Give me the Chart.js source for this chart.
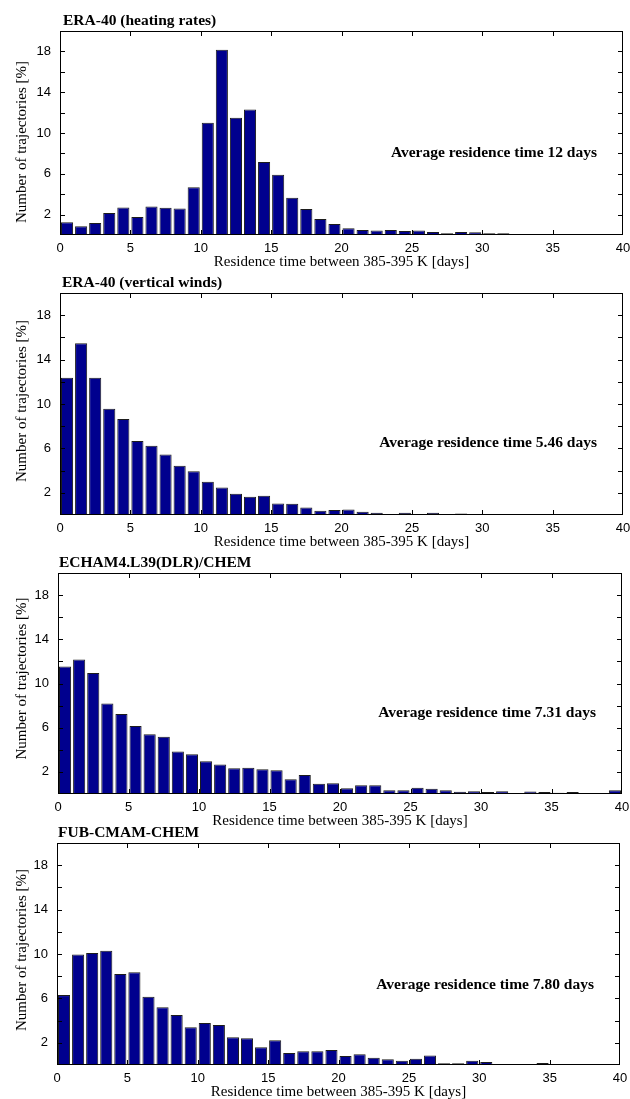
<!DOCTYPE html>
<html>
<head>
<meta charset="utf-8">
<script src="https://cdn.jsdelivr.net/npm/chart.js@4.4.0/dist/chart.umd.min.js"></script>
<style>
  html, body { margin: 0; padding: 0; background: #fff; overflow: hidden; }
  #wrap { position: relative; width: 630px; height: 1099px; }
  canvas { position: absolute; left: 0; }
</style>
</head>
<body>
<div id="wrap">
  <canvas id="c1" width="630" height="274" style="top:1px"></canvas>
  <canvas id="c2" width="630" height="292" style="top:263px"></canvas>
  <canvas id="c3" width="630" height="291" style="top:543px"></canvas>
  <canvas id="c4" width="630" height="292" style="top:813px"></canvas>
</div>
<script>
// bin centres (days), one bar per 1-day bin
var binCenters = [0.5,1.5,2.5,3.5,4.5,5.5,6.5,7.5,8.5,9.5,10.5,11.5,12.5,13.5,14.5,15.5,16.5,17.5,18.5,19.5,
                  20.5,21.5,22.5,23.5,24.5,25.5,26.5,27.5,28.5,29.5,30.5,31.5,32.5,33.5,34.5,35.5,36.5,37.5,38.5,39.5];

var era40Heating = [1.25,0.85,1.18,2.16,2.69,1.77,2.79,2.66,2.59,4.69,11.0,18.16,11.5,12.3,7.15,5.9,3.64,2.56,1.57,1.08,
                    0.66,0.49,0.43,0.49,0.39,0.43,0.3,0.16,0.3,0.26,0.16,0.16,0.1,0.03,0.03,0,0,0,0,0];
var era40Winds = [12.36,15.48,12.36,9.57,8.64,6.66,6.24,5.46,4.44,3.95,3.0,2.48,1.91,1.64,1.73,1.04,1.01,0.68,0.38,0.44,
                  0.5,0.29,0.2,0.1,0.2,0.1,0.2,0.1,0.14,0.1,0.1,0,0,0,0,0,0.05,0,0,0];
var echam = [11.54,12.17,10.94,8.2,7.24,6.16,5.4,5.19,3.84,3.6,2.97,2.67,2.34,2.37,2.25,2.16,1.34,1.71,0.92,0.98,
             0.53,0.8,0.8,0.35,0.35,0.56,0.47,0.35,0.2,0.26,0.17,0.26,0.08,0.23,0.17,0.11,0.17,0.08,0.02,0.35];
var fubCmam = [6.3,9.95,10.1,10.3,8.2,8.35,6.15,5.2,4.5,3.41,3.78,3.6,2.5,2.42,1.6,2.24,1.09,1.24,1.24,1.36,
               0.82,0.97,0.66,0.51,0.38,0.56,0.85,0.15,0.15,0.38,0.28,0.09,0.06,0.02,0.18,0.09,0.02,0.02,0.09,0.09];

var panelTitles = ['ERA-40 (heating rates)', 'ERA-40 (vertical winds)', 'ECHAM4.L39(DLR)/CHEM', 'FUB-CMAM-CHEM'];
var averageNotes = ['Average residence time 12 days', 'Average residence time 5.46 days',
                    'Average residence time 7.31 days', 'Average residence time 7.80 days'];
var yTickValues = [2,4,6,8,10,12,14,16,18];
var xTickValues = [5,10,15,20,25,30,35];

var framePlugin = {
  id: 'frame',
  afterDraw: function(chart, args, opts) {
    var ctx = chart.ctx, a = chart.chartArea, x = chart.scales.x, y = chart.scales.y;
    ctx.save();
    ctx.strokeStyle = '#000';
    ctx.lineWidth = 1;
    ctx.strokeRect(Math.round(a.left) + 0.5, Math.round(a.top) + 0.5,
                   Math.round(a.right - a.left) - 1, Math.round(a.bottom - a.top) - 1);
    ctx.beginPath();
    yTickValues.forEach(function(v) {
      var py = Math.round(y.getPixelForValue(v)) + 0.5;
      ctx.moveTo(a.left, py); ctx.lineTo(a.left + 5, py);
      ctx.moveTo(a.right, py); ctx.lineTo(a.right - 5, py);
    });
    xTickValues.forEach(function(v) {
      var px = Math.round(x.getPixelForValue(v)) + 0.5;
      ctx.moveTo(px, a.top); ctx.lineTo(px, a.top + 5);
      ctx.moveTo(px, a.bottom); ctx.lineTo(px, a.bottom - 5);
    });
    ctx.stroke();

    ctx.fillStyle = '#000';
    ctx.font = 'bold 15.5px "Liberation Serif"';
    ctx.textAlign = 'left';
    ctx.textBaseline = 'middle';
    ctx.fillText(opts.title, a.left + opts.titleDx, a.top - 10);

    ctx.textAlign = 'right';
    ctx.fillText(opts.note, x.getPixelForValue(38.15), y.getPixelForValue(opts.noteY));

    // y axis title
    ctx.font = '15px "Liberation Serif"';
    ctx.textAlign = 'center';
    ctx.translate(22, (a.top + a.bottom) / 2 + opts.yTitleDy);
    ctx.rotate(-Math.PI / 2);
    ctx.fillText('Number of trajectories [%]', 0, 0);
    ctx.restore();
  }
};

function makePanel(id, values, idx, left, right, noteY, titleDx, yTitleDy) {
  var pts = [];
  for (var i = 0; i < binCenters.length; i++) {
    pts.push({x: binCenters[i], y: values[i]});
  }
  new Chart(document.getElementById(id), {
    type: 'bar',
    data: {
      datasets: [{
        data: pts,
        backgroundColor: '#00008e',
        borderColor: '#1c1c1c',
        borderWidth: 1,
        barPercentage: 0.86,
        categoryPercentage: 1.0
      }]
    },
    options: {
      responsive: false,
      animation: false,
      devicePixelRatio: 1,
      layout: { padding: { top: 30, right: 630 - right, left: 0, bottom: 0 } },
      plugins: {
        legend: { display: false },
        tooltip: { enabled: false },
        frame: { title: panelTitles[idx], note: averageNotes[idx], noteY: noteY,
                 titleDx: titleDx, yTitleDy: yTitleDy }
      },
      scales: {
        x: {
          type: 'linear',
          min: 0, max: 40,
          offset: false,
          grid: { display: false, drawTicks: false },
          border: { display: false },
          ticks: { stepSize: 5, padding: 6, color: '#000', font: { family: '"Liberation Sans"', size: 13 } },
          title: { display: true, text: 'Residence time between 385-395 K [days]', color: '#000',
                   padding: { top: 0, bottom: 4 }, font: { family: '"Liberation Serif"', size: 15 } },
          afterFit: function(s) { s.height = 40; s.paddingLeft = 0; s.paddingRight = 0; }
        },
        y: {
          min: 0, max: 20,
          grid: { display: false, drawTicks: false },
          border: { display: false },
          ticks: {
            stepSize: 2, padding: 9, color: '#000',
            font: { family: '"Liberation Sans"', size: 13 },
            callback: function(v) { return (v % 4 === 2) ? v : ''; }
          },
          afterFit: function(s) { s.width = left; s.paddingTop = 0; s.paddingBottom = 0; }
        }
      }
    },
    plugins: [framePlugin]
  });
}

makePanel('c1', era40Heating, 0, 60, 623, 8.0, 3, 9);
makePanel('c2', era40Winds, 1, 60, 623, 6.5, 2, -3);
makePanel('c3', echam, 2, 58, 622, 7.3, 1, -5);
makePanel('c4', fubCmam, 3, 57, 620, 7.2, 1, -4);
</script>
</body>
</html>
